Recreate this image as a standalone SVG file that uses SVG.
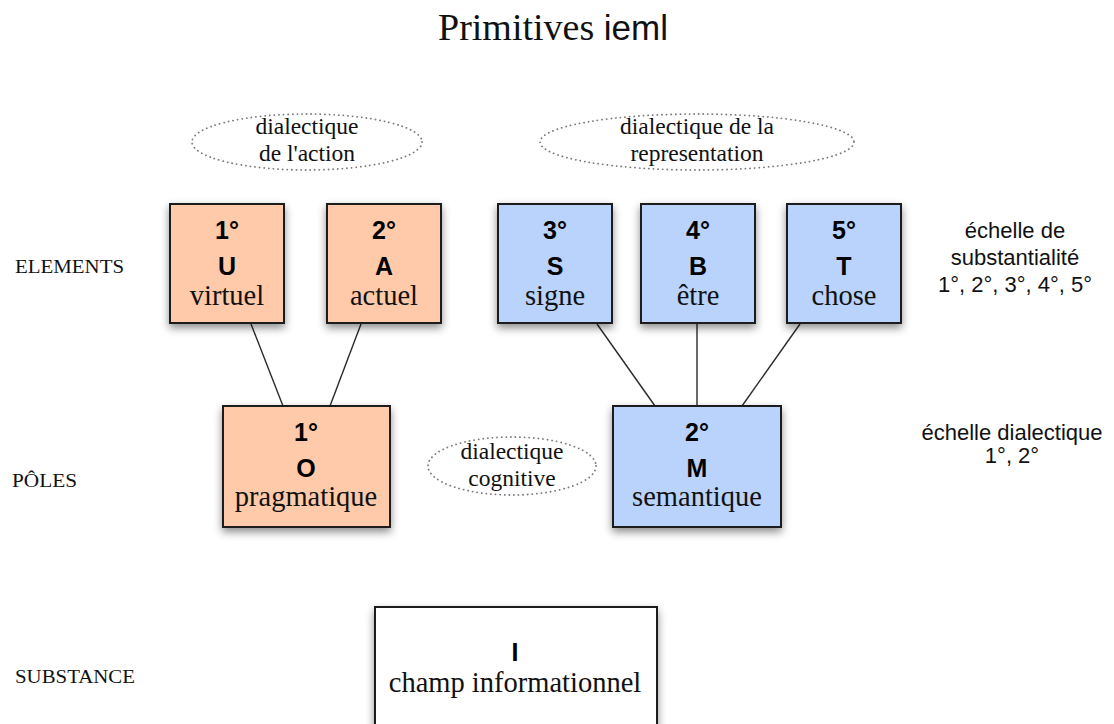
<svg xmlns="http://www.w3.org/2000/svg" width="1114" height="724" viewBox="0 0 1114 724">
<style>
.bg{fill:#ffffff}
.box{stroke:#1e1e1e;stroke-width:2}
.or{fill:#FFCAA9}
.bl{fill:#B9D3FD}
.wh{fill:#ffffff}
.num{font-family:"Liberation Sans",Arial,sans-serif;font-weight:bold;font-size:25px;fill:#000;text-anchor:middle}
.lab{font-family:"Liberation Serif","Times New Roman",serif;font-size:28.5px;fill:#111;text-anchor:middle}
.ell{fill:none;stroke:#7a7a7a;stroke-width:1.8;stroke-dasharray:0.1 4.5;stroke-linecap:round}
.elt{font-family:"Liberation Serif","Times New Roman",serif;font-size:23.5px;fill:#111;text-anchor:middle}
.side{font-family:"Liberation Serif","Times New Roman",serif;font-size:18px;fill:#111}
.scale{font-family:"Liberation Sans",Arial,sans-serif;font-size:22px;fill:#111;text-anchor:middle}
.conn line{stroke:#2a2a2a;stroke-width:1.4}
</style>
<defs>
<filter id="sh" x="-20%" y="-20%" width="140%" height="150%">
<feDropShadow dx="0" dy="4" stdDeviation="4" flood-color="#000" flood-opacity="0.45"/>
</filter>
</defs>
<rect class="bg" x="0" y="0" width="1114" height="724"/>

<g id="title">
<text x="438" y="40" font-family="Liberation Serif,'Times New Roman',serif" font-size="38" fill="#111">Primitives <tspan font-family="Liberation Sans,Arial,sans-serif" font-size="35">ieml</tspan></text>
</g>

<g id="row-labels">
<text class="side" x="15" y="273" textLength="109" lengthAdjust="spacingAndGlyphs">ELEMENTS</text>
<text class="side" x="12" y="487" textLength="65" lengthAdjust="spacingAndGlyphs">PÔLES</text>
<text class="side" x="15" y="683" textLength="120" lengthAdjust="spacingAndGlyphs">SUBSTANCE</text>
</g>

<g id="scales">
<text class="scale" x="1015" y="238">échelle de</text>
<text class="scale" x="1015" y="265">substantialité</text>
<text class="scale" x="1015" y="292">1°, 2°, 3°, 4°, 5°</text>
<text class="scale" x="1012" y="440">échelle dialectique</text>
<text class="scale" x="1012" y="463">1°, 2°</text>
</g>

<g id="dial-action">
<ellipse class="ell" cx="307" cy="142" rx="115" ry="28"/>
<text class="elt" x="307" y="134">dialectique</text>
<text class="elt" x="307" y="161">de l'action</text>
</g>
<g id="dial-representation">
<ellipse class="ell" cx="697" cy="142" rx="157" ry="28"/>
<text class="elt" x="697" y="134">dialectique de la</text>
<text class="elt" x="697" y="161">representation</text>
</g>
<g id="dial-cognitive">
<ellipse class="ell" cx="512" cy="466" rx="84" ry="29"/>
<text class="elt" x="512" y="459">dialectique</text>
<text class="elt" x="512" y="486">cognitive</text>
</g>

<g class="conn" id="connectors">
<line x1="251" y1="324" x2="283" y2="406"/>
<line x1="361" y1="324" x2="330" y2="406"/>
<line x1="597" y1="324" x2="655" y2="406"/>
<line x1="697" y1="324" x2="697" y2="406"/>
<line x1="800" y1="324" x2="742" y2="406"/>
</g>

<g id="node-U">
<rect class="box or" x="170" y="204" width="114" height="119" filter="url(#sh)"/>
<text class="num" x="227" y="239">1°</text>
<text class="num" x="227" y="275">U</text>
<text class="lab" x="227" y="305">virtuel</text>
</g>
<g id="node-A">
<rect class="box or" x="327" y="204" width="114" height="119" filter="url(#sh)"/>
<text class="num" x="384" y="239">2°</text>
<text class="num" x="384" y="275">A</text>
<text class="lab" x="384" y="305">actuel</text>
</g>
<g id="node-S">
<rect class="box bl" x="498" y="204" width="114" height="119" filter="url(#sh)"/>
<text class="num" x="555" y="239">3°</text>
<text class="num" x="555" y="275">S</text>
<text class="lab" x="555" y="305">signe</text>
</g>
<g id="node-B">
<rect class="box bl" x="641" y="204" width="114" height="119" filter="url(#sh)"/>
<text class="num" x="698" y="239">4°</text>
<text class="num" x="698" y="275">B</text>
<text class="lab" x="698" y="305">être</text>
</g>
<g id="node-T">
<rect class="box bl" x="787" y="204" width="114" height="119" filter="url(#sh)"/>
<text class="num" x="844" y="239">5°</text>
<text class="num" x="844" y="275">T</text>
<text class="lab" x="844" y="305">chose</text>
</g>

<g id="node-O">
<rect class="box or" x="223" y="406" width="167" height="121" filter="url(#sh)"/>
<text class="num" x="306" y="441">1°</text>
<text class="num" x="306" y="477">O</text>
<text class="lab" x="306" y="506">pragmatique</text>
</g>
<g id="node-M">
<rect class="box bl" x="613" y="406" width="168" height="121" filter="url(#sh)"/>
<text class="num" x="697" y="441">2°</text>
<text class="num" x="697" y="477">M</text>
<text class="lab" x="697" y="506">semantique</text>
</g>

<g id="node-I">
<rect class="box wh" x="375" y="607" width="282" height="140" filter="url(#sh)"/>
<text class="num" x="515" y="661">I</text>
<text class="lab" x="515" y="692">champ informationnel</text>
</g>
</svg>
